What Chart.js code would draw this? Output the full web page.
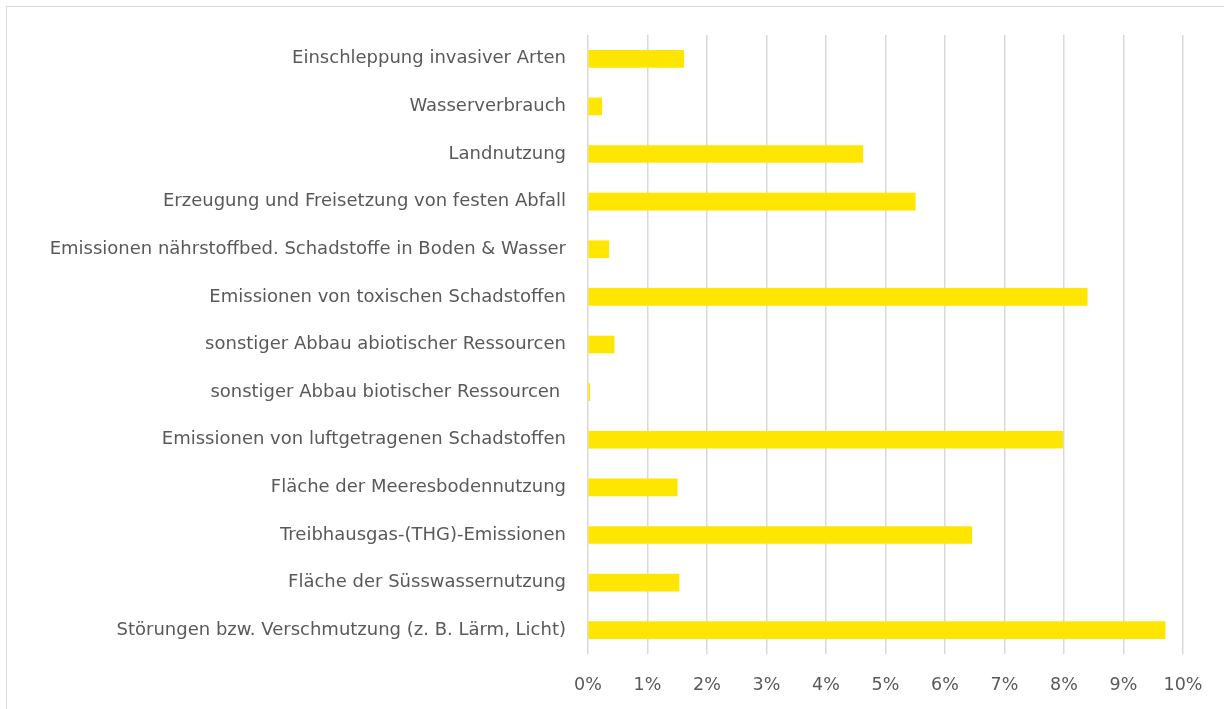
<!DOCTYPE html>
<html lang="de">
<head>
<meta charset="utf-8">
<script src="https://cdn.jsdelivr.net/npm/chart.js@4.4.1/dist/chart.umd.min.js"></script>
<style>
    html, body { margin: 0; padding: 0; background: #ffffff; }
    body { width: 1224px; height: 709px; overflow: hidden; position: relative; }
    .frame {
        position: absolute; left: 6px; top: 6px; width: 1240px; height: 720px;
        border-top: 1.5px solid #d9d9d9; border-left: 1.5px solid #d9d9d9;
    }
    #wrap { position: absolute; left: 0; top: 0; width: 1224px; height: 717px; }
</style>
</head>
<body>
<div class="frame"></div>
<div id="wrap"><canvas id="impactChart"></canvas></div>
<script>
const categories = [
    'Einschleppung invasiver Arten',
    'Wasserverbrauch',
    'Landnutzung',
    'Erzeugung und Freisetzung von festen Abfall',
    'Emissionen nährstoffbed. Schadstoffe in Boden & Wasser',
    'Emissionen von toxischen Schadstoffen',
    'sonstiger Abbau abiotischer Ressourcen',
    'sonstiger Abbau biotischer Ressourcen ',
    'Emissionen von luftgetragenen Schadstoffen',
    'Fläche der Meeresbodennutzung',
    'Treibhausgas-(THG)-Emissionen',
    'Fläche der Süsswassernutzung',
    'Störungen bzw. Verschmutzung (z. B. Lärm, Licht)'
];

// share in percent
const shares = [1.61, 0.23, 4.62, 5.50, 0.35, 8.39, 0.44, 0.03, 7.98, 1.50, 6.45, 1.53, 9.70];

const xTicks = [0, 1, 2, 3, 4, 5, 6, 7, 8, 9, 10];

const textColor = '#595959';
const fontFamily = '"DejaVu Sans", "Noto Sans", sans-serif';

function initChart() {
    const ctx = document.getElementById('impactChart').getContext('2d');
    new Chart(ctx, {
        type: 'bar',
        data: {
            labels: categories,
            datasets: [{
                data: shares,
                backgroundColor: '#ffe600',
                barThickness: 17
            }]
        },
        options: {
            indexAxis: 'y',
            responsive: true,
            maintainAspectRatio: false,
            animation: false,
            layout: { padding: { top: 35, right: 41, bottom: 0, left: 0 } },
            scales: {
                x: {
                    min: xTicks[0],
                    max: xTicks[xTicks.length - 1],
                    afterBuildTicks: (axis) => { axis.ticks = xTicks.map(v => ({ value: v })); },
                    grid: { color: '#d9d9d9', lineWidth: 1.5, drawTicks: false },
                    border: { display: false },
                    ticks: {
                        padding: 21,
                        color: textColor,
                        font: { family: fontFamily, size: 17.5 },
                        callback: (v) => v + '%'
                    }
                },
                y: {
                    afterFit: (axis) => { axis.width = 588; },
                    grid: { display: false, drawTicks: false },
                    border: { display: false },
                    ticks: {
                        padding: 22,
                        color: textColor,
                        font: { family: fontFamily, size: 18 },
                        autoSkip: false
                    }
                }
            },
            plugins: {
                legend: { display: false },
                tooltip: { enabled: false }
            }
        }
    });
}

document.addEventListener('DOMContentLoaded', initChart);
</script>
</body>
</html>
